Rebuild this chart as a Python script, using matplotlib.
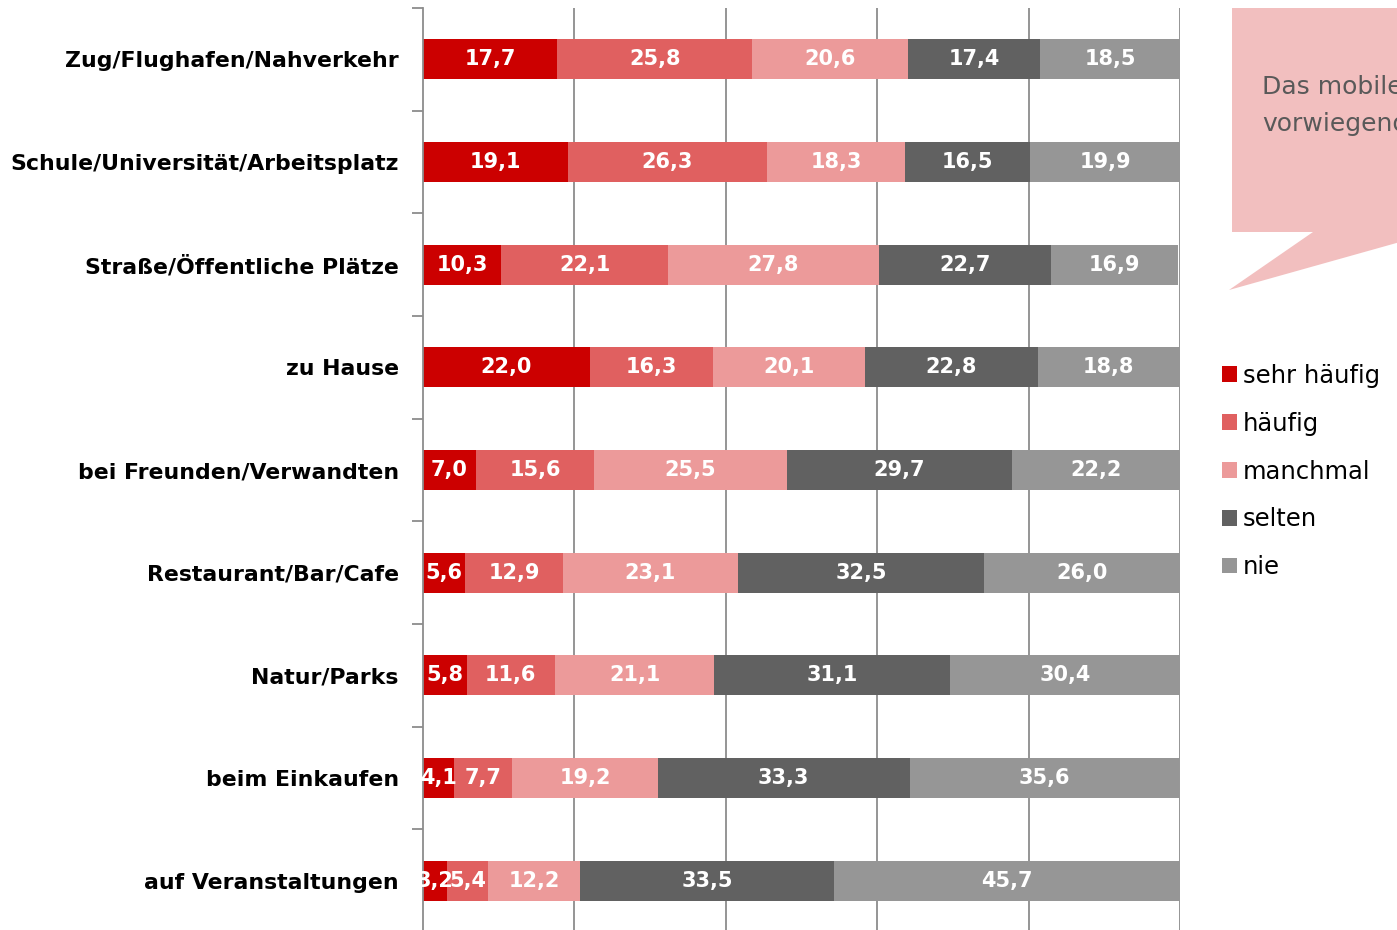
import matplotlib.pyplot as plt
from matplotlib.patches import Polygon

# data (percent)
orte = ["Zug/Flughafen/Nahverkehr", "Schule/Universität/Arbeitsplatz",
        "Straße/Öffentliche Plätze", "zu Hause", "bei Freunden/Verwandten",
        "Restaurant/Bar/Cafe", "Natur/Parks", "beim Einkaufen",
        "auf Veranstaltungen"]
sehr_haeufig = [17.7, 19.1, 10.3, 22.0, 7.0, 5.6, 5.8, 4.1, 3.2]
haeufig = [25.8, 26.3, 22.1, 16.3, 15.6, 12.9, 11.6, 7.7, 5.4]
manchmal = [20.6, 18.3, 27.8, 20.1, 25.5, 23.1, 21.1, 19.2, 12.2]
selten = [17.4, 16.5, 22.7, 22.8, 29.7, 32.5, 31.1, 33.3, 33.5]
nie = [18.5, 19.9, 16.9, 18.8, 22.2, 26.0, 30.4, 35.6, 45.7]

serien = ["sehr häufig", "häufig", "manchmal", "selten", "nie"]
farben = ["#cc0000", "#e06060", "#ec9a9a", "#616161", "#969696"]

W, H = 1397, 930
fig = plt.figure(figsize=(W / 100, H / 100), dpi=100)
ax = fig.add_axes([423 / W, (H - 932) / H, 757 / W, 924 / H])

y = list(range(len(orte)))
links = [0.0] * len(orte)
handles = []
for werte, name, farbe in zip([sehr_haeufig, haeufig, manchmal, selten, nie], serien, farben):
    bars = ax.barh(y, werte, left=links, height=0.39, color=farbe, label=name, zorder=2)
    handles.append(bars)
    ax.bar_label(bars, labels=[f"{v:.1f}".replace(".", ",") for v in werte],
                 label_type="center", color="white", fontsize=15,
                 fontweight="bold", zorder=3)
    links = [a + b for a, b in zip(links, werte)]

ax.set_xlim(0, 100)
ax.set_ylim(len(orte) - 0.5, -0.5)
ax.set_xticks([20, 40, 60, 80, 100])
ax.tick_params(axis="x", length=0, labelbottom=False)
ax.xaxis.grid(True, color="#8c8c8c", linewidth=1.3, zorder=0)

# category ticks sit on the boundaries, labels in the middle
ax.set_yticks([i - 0.5 for i in range(len(orte) + 1)])
ax.set_yticklabels([])
ax.tick_params(axis="y", length=8, width=1.3, color="#8c8c8c")
for i, ort in enumerate(orte):
    ax.text(-3.2, i + 0.02, ort, ha="right", va="center", fontsize=15.8,
            fontweight="bold", color="black")

for s in ["top", "right", "bottom"]:
    ax.spines[s].set_visible(False)
ax.spines["left"].set_color("#8c8c8c")
ax.spines["left"].set_linewidth(1.3)

# speech bubble at top right (cut by the figure edge)
px = lambda x, yy: (x / W, 1 - yy / H)
blase = Polygon([px(1232, 8), px(1400, 8), px(1400, 242), px(1229, 290),
                 px(1313, 232), px(1232, 232)], closed=True,
                transform=fig.transFigure, facecolor="#f2bfbf", edgecolor="none")
fig.patches.append(blase)
fig.text(1262 / W, 1 - 87 / H, "Das mobile", fontsize=18, color="#595959",
         va="center", ha="left")
fig.text(1262 / W, 1 - 124 / H, "vorwiegend", fontsize=18, color="#595959",
         va="center", ha="left")

fig.legend(handles=handles, labels=serien, loc="upper left",
           bbox_to_anchor=(1200 / W, 1 - 342 / H), frameon=False,
           fontsize=17.5, handlelength=0.62, handleheight=0.62,
           handletextpad=0.25, labelspacing=0.98)

fig.savefig("out.png", dpi=100)
